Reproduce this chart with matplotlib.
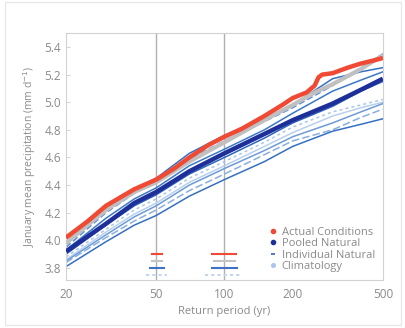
import matplotlib
matplotlib.use("Agg")
import matplotlib.pyplot as plt
from matplotlib.lines import Line2D
from matplotlib.patches import Rectangle

# ---- data ----
actual_rp = [20, 25, 30, 40, 50, 60, 70, 85, 100, 120, 150, 180, 200, 230, 250, 260, 270, 300, 350, 400, 450, 500]
actual_val = [4.02, 4.14, 4.25, 4.37, 4.44, 4.52, 4.60, 4.69, 4.75, 4.81, 4.90, 4.98, 5.03, 5.07, 5.12, 5.18, 5.20, 5.21, 5.25, 5.28, 5.30, 5.32]

clim_rp = [20, 30, 40, 50, 70, 100, 150, 200, 250, 300, 400, 500]
clim_val = [3.98, 4.22, 4.35, 4.42, 4.57, 4.71, 4.87, 4.98, 5.07, 5.13, 5.24, 5.34]

pooled_rp = [20, 30, 40, 50, 70, 100, 150, 200, 300, 400, 500]
pooled_val = [3.92, 4.12, 4.27, 4.35, 4.50, 4.63, 4.77, 4.87, 4.99, 5.09, 5.17]

indiv_rp = [20, 30, 40, 50, 70, 100, 150, 200, 300, 400, 500]
indiv_vals = [
    [3.97, 4.22, 4.37, 4.45, 4.63, 4.76, 4.88, 4.98, 5.17, 5.22, 5.25],
    [3.95, 4.20, 4.34, 4.42, 4.59, 4.72, 4.86, 4.96, 5.12, 5.25, 5.35],
    [3.93, 4.16, 4.30, 4.38, 4.54, 4.66, 4.80, 4.92, 5.08, 5.16, 5.22],
    [3.90, 4.11, 4.25, 4.33, 4.48, 4.60, 4.74, 4.85, 4.97, 5.08, 5.15],
    [3.88, 4.08, 4.22, 4.30, 4.45, 4.57, 4.71, 4.82, 4.93, 4.98, 5.02],
    [3.86, 4.06, 4.19, 4.27, 4.42, 4.54, 4.68, 4.78, 4.90, 4.96, 5.00],
    [3.85, 4.04, 4.17, 4.25, 4.40, 4.52, 4.65, 4.75, 4.85, 4.93, 4.99],
    [3.84, 4.02, 4.14, 4.22, 4.36, 4.48, 4.62, 4.72, 4.80, 4.89, 4.95],
    [3.81, 3.99, 4.11, 4.18, 4.32, 4.44, 4.57, 4.68, 4.79, 4.84, 4.88],
]
indiv_colors = ["#3470c4", "#5b8fd6", "#3a78c8", "#2d66bb", "#a9c6ea", "#b8d0ee", "#6d9ad8", "#88aee0", "#3570c2"]
indiv_styles = ["-", (0, (4, 2)), "-", "-", (0, (2, 2)), "-", "-", (0, (5, 2)), "-"]

# confidence bars at the 50- and 100-year return periods
bars_50 = {"actual": (48, 53), "clim": (48, 53), "indiv": (47, 54), "clim2": (45, 56)}
bars_100 = {"actual": (88, 113), "clim": (90, 111), "indiv": (88, 114), "clim2": (82, 117)}
bar_y = {"actual": 3.90, "clim": 3.85, "indiv": 3.80, "clim2": 3.75}
bar_col = {"actual": "#f04a35", "clim": "#c4c4c4", "indiv": "#3f72c6", "clim2": "#c5d6ee"}
bar_ls = {"actual": "-", "clim": "-", "indiv": "-", "clim2": (0, (1.5, 1.5))}

xticks = [20, 50, 100, 200, 500]
yticks = [3.8, 4.0, 4.2, 4.4, 4.6, 4.8, 5.0, 5.2, 5.4]

txt = "#8a8a8a"
plt.rcParams['font.family'] = ['Open Sans', 'DejaVu Sans']

fig = plt.figure(figsize=(4.06, 3.28), dpi=100)
fig.patches.append(Rectangle((0.012, 0.008), 0.976, 0.985, transform=fig.transFigure,
                             fill=False, edgecolor="#e6e6e6", lw=0.8))
ax = fig.add_axes([0.1626, 0.1463, 0.7804, 0.7527])
ax.set_xscale("log")
ax.set_xlim(20, 500)
ax.set_ylim(3.713, 5.5)

for x in (50, 100):
    ax.axvline(x, color="#b0b0b0", lw=1.0, zorder=1)

for vals, c, ls in zip(indiv_vals, indiv_colors, indiv_styles):
    ax.plot(indiv_rp, vals, color=c, lw=1.1, ls=ls, zorder=2)

ax.plot(pooled_rp, pooled_val, color="#1f2f9a", lw=3.2, zorder=3, solid_capstyle="butt")
ax.plot(clim_rp, clim_val, color="#c0c0c0", lw=3.0, zorder=4, solid_capstyle="butt")
ax.plot(actual_rp, actual_val, color="#f04a35", lw=3.2, zorder=5, solid_capstyle="butt")

for bars in (bars_50, bars_100):
    for k, (lo, hi) in bars.items():
        ax.plot([lo, hi], [bar_y[k], bar_y[k]], color=bar_col[k], lw=1.5, ls=bar_ls[k], zorder=3)

ax.set_xticks(xticks)
ax.set_xticklabels([str(v) for v in xticks])
ax.xaxis.set_minor_locator(matplotlib.ticker.NullLocator())
ax.set_yticks(yticks)
ax.set_yticklabels([f"{v:.1f}" for v in yticks])
ax.tick_params(axis="both", colors="#cccccc", labelcolor=txt, labelsize=8.5, length=3, width=0.6,
               direction="in")
ax.tick_params(axis="x", length=0, pad=6)
for s in ax.spines.values():
    s.set_color("#d2d2d2")
    s.set_linewidth(0.8)

ax.set_xlabel("Return period (yr)", color=txt, fontsize=8, labelpad=3)
ax.set_ylabel("January mean precipitation (mm d$^{-1}$)", color=txt, fontsize=7.5, labelpad=5)

handles = [
    Line2D([], [], ls="", marker="o", ms=3, color="#f04a35"),
    Line2D([], [], ls="", marker="o", ms=3, color="#1f2f9a"),
    Line2D([], [], ls="", marker="_", ms=3.5, mew=1.3, color="#3f72c6"),
    Line2D([], [], ls="", marker="o", ms=2.6, color="#a9c6ea"),
]
labels = ["Actual Conditions", "Pooled Natural", "Individual Natural", "Climatology"]
leg = ax.legend(handles, labels, loc="lower right", frameon=False, fontsize=8,
                handlelength=0.6, handletextpad=0.5, labelspacing=0.05,
                borderaxespad=0.3, bbox_to_anchor=(1.0, 0.0))
for t in leg.get_texts():
    t.set_color(txt)

fig.savefig("out.png", dpi=100)
